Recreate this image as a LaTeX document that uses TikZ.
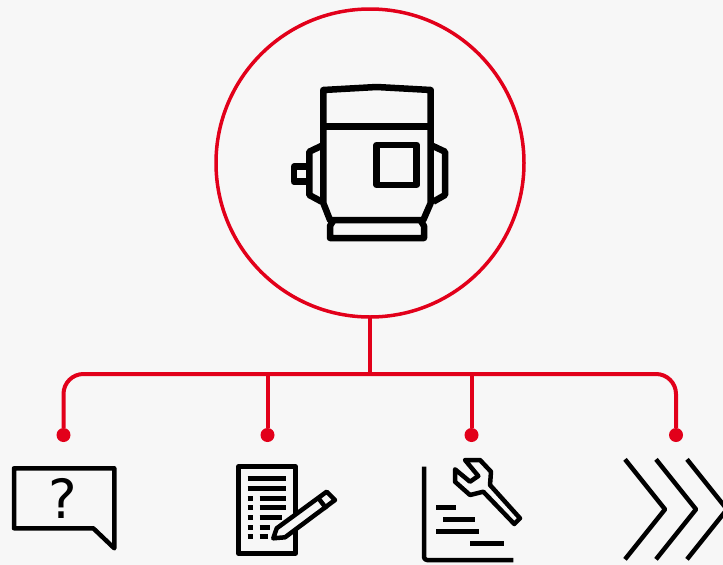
\documentclass[tikz,border=0pt]{standalone}
\usepackage{fontspec}
\newfontfamily\askfont{DejaVu Sans}
\definecolor{hubred}{HTML}{E2001A}
\definecolor{paper}{HTML}{F7F7F7}
\tikzset{
  wire/.style={hubred,line width=4pt},
  tapdot/.style={circle,fill=hubred,inner sep=0pt,outer sep=0pt,minimum size=14pt},
  icon/.style={black,line width=4.5pt,line join=round},
  thick icon/.style={black,line width=6.5pt,line join=round},
  listbar/.style={black,line width=5pt}
}
\begin{document}
\begin{tikzpicture}[x=1pt,y=-1pt]
            \fill[paper] (0,0) rectangle (723,565);
            \useasboundingbox (0,0) rectangle (723,565);

            \node[draw=hubred,line width=3.5pt,circle,inner sep=0pt,outer sep=0pt,minimum size=308pt] (hub) at (370,163) {};

            \coordinate (bus) at (370,374);
            \node[tapdot] (tapask) at (63.5,435) {};
            \node[tapdot] (tapnote) at (267.5,435) {};
            \node[tapdot] (taptool) at (471.5,435) {};
            \node[tapdot] (tapnext) at (676,435) {};

            \draw[wire] (hub) -- (bus);
            \draw[wire,rounded corners=20pt] (tapask) |- (bus) -| (tapnext);
            \draw[wire] (tapnote) -- (tapnote |- bus);
            \draw[wire] (taptool) -- (taptool |- bus);

            % motor
            \draw[thick icon] (323.3,203) -- (323.3,90) -- (376.7,87) -- (430.7,90) -- (430.7,203) -- (423.3,220) -- (330,220) -- cycle;
            \draw[thick icon] (323.3,126.7) -- (430.7,126.7);
            \draw[thick icon] (376.7,145) rectangle (416.7,185);
            \draw[thick icon] (323.3,145) -- (309.3,151.7) -- (309.3,195) -- (321.7,201.7);
            \draw[thick icon] (430.7,145) -- (445,151.7) -- (445,195) -- (433.3,201.7);
            \draw[thick icon] (309.3,166.7) -- (294,166.7) -- (294,181.7) -- (309.3,181.7);
            \draw[thick icon] (333,221) -- (330,226) -- (330,238) -- (424,238) -- (424,226) -- (421,221);

            % question
            \draw[icon] (14,468.3) -- (114.3,468.3) -- (114.3,548.3) -- (93.3,528.3) -- (14,528.3) -- cycle;
            \node[font=\askfont\fontsize{54}{54}\selectfont,inner sep=0pt] (askmark) at (63,498.5) {?};

            % notes
            \draw[icon] (238.3,466.7) rectangle (295.7,553.3);
            \draw[listbar] (247.7,478.7) -- (286.3,478.7);
            \draw[listbar] (247.7,488.3) -- (286.3,488.3);
            \draw[listbar] (247.7,498) -- (253,498);
            \draw[listbar] (259.7,498) -- (286.3,498);
            \draw[listbar] (247.7,507.7) -- (253,507.7);
            \draw[listbar] (259.7,507.7) -- (286.3,507.7);
            \draw[listbar] (247.7,517.3) -- (253,517.3);
            \draw[listbar] (259.7,517.3) -- (281.7,517.3);
            \draw[listbar] (247.7,527) -- (253,527);
            \draw[listbar] (259.7,527) -- (269.7,527);
            \draw[listbar] (247.7,536.7) -- (253,536.7);
            \draw[listbar] (259.7,536.7) -- (267.7,536.7);
            \draw[icon,fill=paper] (273.3,538.3) -- (276.7,528.3) -- (326.7,491.7) -- (335,500) -- (285,537.3) -- cycle;
            \draw[icon] (318.3,498) -- (326.7,509);

            % tool
            \draw[icon,rounded corners=3pt] (424,466.7) -- (424,560) -- (513.3,560);
            \draw[listbar] (436,507.3) -- (455.7,507.3);
            \draw[listbar] (443.3,519.3) -- (475,519.3);
            \draw[listbar] (436,531.3) -- (479.3,531.3);
            \draw[listbar] (470,543.3) -- (503.7,543.3);
            \draw[icon] (465,460) -- (480,460) -- (491,471.7) -- (490,485) -- (520,518.3) -- (514.3,524) -- (483.3,491.7) -- (470,495) -- (455,481.7) -- (455,469.3) -- (470,481.7) -- (478.3,476) -- cycle;

            % next
            \draw[icon] (625,459.3) -- (665,509.3) -- (625,559.3);
            \draw[icon] (656,459.3) -- (696,509.3) -- (656,559.3);
            \draw[icon] (687,459.3) -- (727,509.3) -- (687,559.3);
        \end{tikzpicture}
\end{document}
